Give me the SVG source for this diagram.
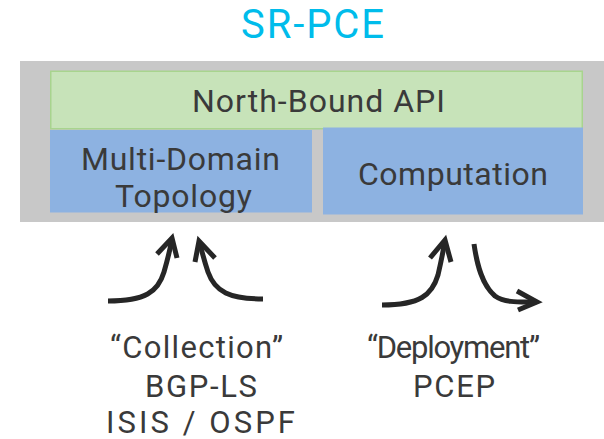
<svg xmlns="http://www.w3.org/2000/svg" width="604" height="439" viewBox="0 0 604 439">
  <defs>
    <style>
      .lbl { font-family: Roboto, "Liberation Sans", Arial, sans-serif; font-weight: 400; fill: #3a3a3a; text-anchor: middle; }
      .box { font-size: 32px; }
      .proto { font-size: 31px; }
      .title { font-family: Roboto, "Liberation Sans", Arial, sans-serif; font-weight: 400; font-size: 40px; fill: #00bceb; text-anchor: middle; }
      .arrow { fill: none; stroke: #262626; stroke-width: 5; }
      .head { fill: none; stroke: #262626; stroke-width: 5; stroke-linejoin: miter; stroke-linecap: butt; }
    </style>
  </defs>
  <rect width="604" height="439" fill="#ffffff"/>

  <!-- title -->
  <text id="title" class="title" x="312.5" y="37.5" textLength="143" lengthAdjust="spacing">SR-PCE</text>

  <!-- controller frame -->
  <g id="sr-pce">
    <rect x="20" y="61" width="584" height="161" fill="#c8c8c8"/>
  </g>

  <g id="north-bound-api">
    <rect x="50.75" y="71.25" width="531.5" height="57.5" fill="#c7e3b9" stroke="#a8d48e" stroke-width="1.5"/>
    <text class="lbl box" x="318.5" y="111.5" textLength="253" lengthAdjust="spacing">North-Bound API</text>
  </g>

  <g id="multi-domain-topology">
    <rect x="50" y="130" width="262" height="82.5" fill="#8db2e1"/>
    <text class="lbl box" x="180.5" y="170" textLength="199" lengthAdjust="spacing">Multi-Domain</text>
    <text class="lbl box" x="183.5" y="206.5" textLength="137" lengthAdjust="spacing">Topology</text>
  </g>

  <g id="computation">
    <rect x="323" y="127.5" width="260" height="87" fill="#8db2e1"/>
    <text class="lbl box" x="453" y="185" textLength="190" lengthAdjust="spacing">Computation</text>
  </g>

  <!-- protocol labels -->
  <g id="collection">
    <text class="lbl proto" x="196.5" y="358" textLength="173" lengthAdjust="spacing">“Collection”</text>
    <text class="lbl proto" x="201" y="396.5" textLength="112" lengthAdjust="spacing">BGP-LS</text>
    <text class="lbl proto" x="200.5" y="432.5" textLength="189" lengthAdjust="spacing">ISIS / OSPF</text>
  </g>

  <g id="deployment">
    <text class="lbl proto" x="453.5" y="358" textLength="173" lengthAdjust="spacing">“Deployment”</text>
    <text class="lbl proto" x="454" y="396.5" textLength="82" lengthAdjust="spacing">PCEP</text>
  </g>

  <!-- connectors -->
  <g id="connectors">
    <path class="arrow" d="M108,301 C145,301 158,292 164,272 C168,258 170,250 171.5,241"/>
    <polyline class="head" points="157,254 172,238 177,258"/>

    <path class="arrow" d="M263,299 C230,299 215,292 208,272 C204,260 202,252 200,244"/>
    <polyline class="head" points="195,262 199,241 215,258"/>

    <path class="arrow" d="M382,305 C420,305 432,295 438,275 C441,262 443,252 444.5,243"/>
    <polyline class="head" points="430,258 445,240 451,262"/>

    <path class="arrow" d="M474,244 C477,265 482,285 495,296 C505,303 520,302 534,302"/>
    <polyline class="head" points="517,291 537,302 518,310"/>
  </g>
</svg>
